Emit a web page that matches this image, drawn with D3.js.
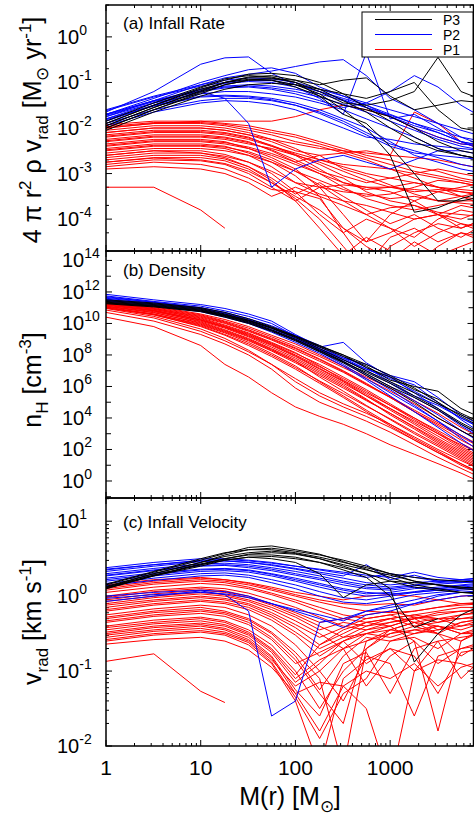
<!DOCTYPE html>
<html>
<head>
<meta charset="utf-8">
<script src="https://cdn.jsdelivr.net/npm/d3@7"></script>
<style>
  body { margin: 0; background: #fff; }
  text { font-family: "Liberation Sans", Arial, Helvetica, sans-serif; fill: #000; }
</style>
</head>
<body>
<div id="container"></div>
<script>

// enclosed mass M(r) [Msun], shared by every profile below
const massGrid = [1, 3.2, 10, 18, 32, 56, 100, 180, 320, 560, 1000, 1800, 3200, 5600, 10000];

// (a) infall rate, log10 [Msun/yr]
const rateP3 = [
  [-1.95,-1.55,-1.2,-1.0,-0.88,-0.85,-0.95,-1.15,-1.4,-1.65,-2.0,-2.3,-2.5,-2.6,-2.7],
  [-1.9,-1.5,-1.12,-0.95,-0.82,-0.8,-0.85,-1.0,-1.25,-1.55,-1.85,-2.2,-2.45,-2.6,-2.7],
  [-2.0,-1.6,-1.25,-1.05,-0.95,-0.92,-0.95,-1.05,-0.95,-0.9,-1.3,-1.6,-1.5,-1.4,-1.45],
  [-1.85,-1.45,-1.1,-0.92,-0.85,-0.88,-1.0,-1.2,-1.45,-1.5,-1.4,-1.2,-0.45,-1.2,-1.4],
  [-2.0,-1.6,-1.22,-1.05,-0.95,-0.95,-1.05,-1.25,-1.6,-2.0,-2.6,-3.85,-3.75,-3.55,-3.4],
  [-1.95,-1.55,-1.18,-1.0,-0.9,-0.9,-1.0,-1.3,-1.7,-1.9,-2.4,-3.0,-3.6,-3.6,-3.5],
  [-1.9,-1.5,-1.15,-1.0,-0.93,-0.95,-1.1,-1.3,-1.5,-1.6,-1.75,-2.0,-2.3,-2.5,-2.6],
  [-2.05,-1.65,-1.3,-1.15,-1.05,-1.02,-1.05,-1.15,-1.25,-1.35,-1.2,-1.0,-1.6,-2.0,-2.1]
];
const rateP2 = [
  [-1.65,-1.2,-0.6,-0.46,-0.44,-0.8,-1.05,-1.2,-1.35,-1.5,-1.7,-1.9,-2.1,-2.3,-2.4],
  [-1.7,-1.35,-1.0,-0.85,-0.72,-0.68,-0.8,-1.1,-1.3,-1.5,-1.75,-2.0,-2.2,-2.35,-2.4],
  [-1.75,-1.4,-1.05,-0.9,-0.82,-0.75,-0.65,-0.55,-0.5,-0.85,-1.35,-1.6,-1.9,-2.2,-2.4],
  [-1.8,-1.45,-1.15,-1.02,-0.98,-1.0,-1.1,-1.35,-1.7,-0.35,-1.8,-1.7,-2.0,-2.3,-2.5],
  [-1.85,-1.5,-1.2,-1.35,-1.9,-3.3,-2.9,-2.7,-2.6,-2.75,-2.9,-2.7,-2.5,-2.5,-2.6],
  [-1.6,-1.3,-1.05,-0.95,-0.9,-0.92,-1.0,-1.15,-1.3,-1.45,-1.6,-1.75,-1.9,-2.05,-2.2],
  [-1.7,-1.4,-1.15,-1.08,-1.05,-1.08,-1.15,-1.25,-1.4,-1.55,-1.75,-1.95,-2.1,-2.3,-2.4],
  [-1.75,-1.45,-1.25,-1.2,-1.2,-1.25,-1.32,-1.45,-1.6,-1.8,-2.0,-2.2,-2.45,-2.6,-2.7],
  [-1.8,-1.5,-1.3,-1.28,-1.3,-1.35,-1.45,-1.6,-1.8,-2.0,-2.3,-2.6,-2.75,-2.9,-3.0],
  [-1.9,-1.6,-1.4,-1.35,-1.35,-1.4,-1.5,-1.65,-1.85,-2.1,-2.35,-2.5,-2.65,-2.8,-2.9],
  [-1.95,-1.65,-1.45,-1.4,-1.42,-1.48,-1.6,-1.8,-2.0,-2.2,-2.25,-2.35,-2.4,-2.45,-2.5],
  [-1.7,-1.4,-1.2,-1.12,-1.1,-1.15,-1.25,-1.4,-1.55,-1.45,-1.2,-0.85,-1.1,-1.5,-1.8],
  [-1.72,-1.42,-1.18,-1.1,-1.08,-1.12,-1.2,-1.32,-1.48,-1.65,-1.85,-2.05,-2.25,-2.4,-2.5],
  [-1.82,-1.52,-1.32,-1.3,-1.32,-1.38,-1.5,-1.68,-1.9,-2.15,-2.4,-2.55,-2.6,-2.65,-2.7],
  [-1.62,-1.32,-1.08,-1.0,-0.95,-0.96,-1.05,-1.2,-1.38,-1.55,-1.72,-1.9,-2.05,-2.2,-2.3]
];
const rateP1 = [
  [-1.93,-1.85,-1.85,-1.9,-1.95,-2.05,-2.15,-2.3,-2.45,-2.6,-2.7,-2.85,-2.95,-3.1,-3.2],
  [-2.0,-1.9,-1.9,-1.95,-2.05,-2.15,-2.3,-2.4,-2.55,-2.5,-2.6,-1.65,-1.9,-2.3,-2.5],
  [-2.05,-1.95,-1.95,-2.0,-2.1,-2.25,-2.45,-2.7,-2.85,-3.0,-3.1,-3.2,-3.3,-3.35,-3.4],
  [-2.1,-2.0,-2.0,-2.05,-2.15,-2.3,-2.5,-2.6,-2.55,-2.7,-2.9,-3.0,-3.1,-3.2,-3.3],
  [-2.15,-2.05,-2.05,-2.1,-2.2,-2.4,-2.6,-2.9,-3.2,-3.3,-3.3,-3.35,-3.4,-3.5,-3.6],
  [-2.2,-2.1,-2.1,-2.15,-2.25,-2.4,-2.55,-2.7,-2.8,-2.85,-2.9,-3.1,-3.3,-3.4,-3.45],
  [-2.25,-2.15,-2.15,-2.2,-2.3,-2.5,-2.75,-3.0,-3.3,-3.55,-3.7,-3.8,-3.7,-3.6,-3.6],
  [-2.3,-2.2,-2.2,-2.25,-2.35,-2.45,-2.6,-2.75,-2.95,-3.15,-3.3,-3.4,-3.35,-3.4,-3.5],
  [-2.35,-2.25,-2.25,-2.3,-2.45,-2.65,-2.9,-3.3,-3.9,-4.5,-4.3,-4.0,-3.9,-4.0,-3.8],
  [-2.4,-2.3,-2.3,-2.35,-2.45,-2.6,-2.8,-3.0,-3.2,-3.35,-3.3,-3.2,-3.3,-3.5,-3.7],
  [-2.45,-2.35,-2.35,-2.4,-2.55,-2.75,-3.05,-3.5,-4.3,-5.0,-4.4,-4.2,-4.5,-4.3,-4.4],
  [-2.5,-2.4,-2.4,-2.45,-2.6,-2.85,-3.2,-3.3,-3.25,-3.3,-3.4,-3.6,-3.9,-4.2,-4.0],
  [-2.55,-2.45,-2.45,-2.5,-2.6,-2.75,-2.95,-3.15,-3.35,-3.5,-3.45,-3.3,-3.15,-3.2,-3.3],
  [-2.6,-2.5,-2.5,-2.58,-2.75,-3.0,-3.4,-3.9,-4.3,-4.0,-4.2,-4.6,-4.3,-4.1,-4.3],
  [-2.65,-2.55,-2.55,-2.62,-2.75,-2.95,-3.2,-3.45,-3.6,-3.7,-3.85,-4.0,-3.9,-3.7,-3.8],
  [-2.7,-2.6,-2.6,-2.68,-2.85,-3.1,-3.45,-3.2,-3.5,-3.8,-4.1,-3.9,-4.2,-4.4,-4.1],
  [-2.75,-2.65,-2.65,-2.72,-2.9,-3.2,-3.5,-3.8,-4.2,-4.6,-4.9,-4.5,-4.8,-4.6,-4.4],
  [-2.8,-2.7,-2.72,-2.8,-3.0,-3.3,-3.6,-3.3,-3.4,-3.45,-3.55,-3.5,-3.6,-3.65,-3.7],
  [-2.85,-2.75,-2.8,-2.9,-3.1,-3.35,-3.4,-3.55,-4.2,-4.5,-3.9,-3.6,-3.4,-3.3,-3.2],
  [-2.9,-2.85,-2.9,-3.0,-3.2,-3.5,-3.3,-3.5,-3.7,-3.9,-3.75,-3.7,-3.85,-3.9,-3.95],
  [-3.3,-3.3,-3.8,-4.2,null,null,null,null,null,null,null,null,null,null,null],
  [-2.0,-1.9,-1.85,-1.85,-1.85,-1.85,-1.75,-1.6,-1.5,-1.6,-1.75,-2.0,-2.2,-2.35,-2.4],
  [-2.1,-2.0,-2.0,-2.05,-2.15,-2.25,-2.35,-2.45,-2.5,-2.55,-2.6,-2.65,-2.7,-2.8,-2.9],
  [-2.6,-2.5,-2.55,-2.65,-2.85,-3.15,-3.6,-4.2,-4.8,-4.4,-4.7,-5.0,-4.6,-4.3,-4.5],
  [-1.97,-1.88,-1.88,-1.92,-2.0,-2.1,-2.2,-2.35,-2.5,-2.65,-2.8,-2.95,-3.05,-3.15,-3.25],
  [-2.18,-2.08,-2.08,-2.12,-2.22,-2.38,-2.58,-2.8,-3.05,-3.2,-3.1,-3.0,-2.9,-3.0,-3.1],
  [-2.28,-2.18,-2.18,-2.22,-2.32,-2.48,-2.7,-2.95,-3.1,-3.4,-3.6,-3.7,-3.9,-4.1,-4.2],
  [-2.38,-2.28,-2.28,-2.32,-2.42,-2.56,-2.75,-2.6,-2.9,-3.05,-3.25,-3.45,-3.6,-3.5,-3.4],
  [-2.48,-2.38,-2.38,-2.42,-2.52,-2.7,-2.95,-3.25,-3.6,-3.9,-4.2,-4.4,-4.0,-3.8,-3.9],
  [-2.75,-2.66,-2.7,-2.78,-2.95,-3.2,-3.55,-4.0,-4.6,-5.2,-4.6,-4.3,-4.1,-4.2,-4.0]
];

// (b) density, log10 n_H [cm^-3]
const densP3 = [
  [11.45,11.25,10.95,10.6,10.2,9.7,9.1,8.4,7.7,7.0,6.3,5.6,4.9,4.2,3.5],
  [11.35,11.15,10.85,10.5,10.1,9.6,9.0,8.3,7.6,6.8,6.0,5.3,4.5,3.6,2.8],
  [11.3,11.1,10.8,10.5,10.15,9.7,9.15,8.5,7.9,7.3,6.4,6.0,5.7,4.6,3.9],
  [11.4,11.2,10.9,10.55,10.2,9.75,9.2,8.55,8.0,7.2,6.6,5.8,5.2,4.3,3.6],
  [11.25,11.05,10.75,10.4,10.0,9.5,8.9,8.2,7.5,6.7,5.9,5.0,4.0,3.2,2.4],
  [11.5,11.3,11.0,10.7,10.3,9.8,9.2,8.6,8.0,7.4,6.7,5.9,5.0,4.1,3.3],
  [11.3,11.1,10.8,10.45,10.05,9.55,8.95,8.25,7.55,6.9,6.2,5.4,4.6,3.7,2.9]
];
const densP2 = [
  [11.85,11.5,11.2,10.95,10.6,10.15,9.3,8.5,7.8,7.1,6.5,5.7,4.9,4.0,3.2],
  [11.75,11.4,11.1,10.8,10.45,10.0,9.2,8.4,7.8,7.4,6.7,6.3,5.3,4.2,3.4],
  [11.7,11.35,11.0,10.65,10.25,9.75,9.15,8.5,8.8,7.5,6.6,5.6,4.6,3.6,2.7],
  [11.6,11.3,10.95,10.6,10.2,9.7,9.1,8.35,7.6,6.8,6.0,5.1,4.2,3.2,2.3],
  [11.55,11.25,10.9,10.55,10.15,9.6,9.0,8.3,7.55,6.7,5.8,4.8,3.8,2.7,1.7],
  [11.5,11.2,10.85,10.5,10.1,9.6,9.0,8.35,7.7,7.1,6.6,6.1,5.0,3.9,2.9],
  [11.45,11.15,10.8,10.45,10.05,9.55,8.9,8.2,7.4,6.5,5.6,4.7,3.8,2.9,2.0],
  [11.4,11.1,10.75,10.4,10.0,9.45,8.8,8.1,7.3,6.4,5.4,4.4,3.4,2.4,1.5],
  [11.65,11.35,11.0,10.7,10.3,9.85,9.25,8.6,7.9,7.2,6.3,5.4,4.8,4.0,3.3],
  [11.5,11.2,10.9,10.55,10.2,9.7,9.05,8.4,7.7,7.0,6.2,5.3,4.5,3.5,2.6]
];
const densP1 = [
  [11.35,11.05,10.55,10.15,9.7,9.15,8.55,7.9,7.2,6.5,5.7,4.9,4.0,3.2,2.4],
  [11.3,10.95,10.4,10.0,9.5,8.95,8.3,7.6,6.9,6.1,5.3,4.4,3.5,2.6,1.8],
  [11.25,10.9,10.3,9.85,9.35,8.75,8.1,7.4,6.6,5.8,4.9,4.0,3.1,2.2,1.4],
  [11.2,10.85,10.2,9.75,9.2,8.6,7.9,7.1,6.3,5.4,4.5,3.6,2.7,1.9,1.1],
  [11.15,10.8,10.1,9.6,9.05,8.4,7.7,6.9,6.1,5.2,4.2,3.3,2.4,1.6,0.8],
  [11.1,10.7,10.0,9.5,8.95,8.3,7.6,6.6,5.7,4.8,3.9,3.0,2.2,1.4,0.6],
  [11.05,10.6,9.9,9.4,8.8,8.1,7.3,6.3,5.4,4.5,3.6,2.7,1.9,1.1,0.3],
  [11.0,10.55,9.8,9.25,8.6,7.9,7.1,6.2,5.3,4.4,3.5,2.6,1.8,1.0,0.3],
  [10.95,10.45,9.65,9.05,8.3,7.4,6.3,5.4,4.7,4.1,3.4,2.6,1.8,1.1,0.4],
  [10.7,10.15,9.3,8.7,8.0,7.1,5.9,5.0,4.4,3.8,3.1,2.3,1.5,0.8,0.1],
  [10.4,9.8,8.6,7.4,6.6,5.6,4.7,4.1,3.6,3.0,2.3,1.7,1.1,0.5,-0.2],
  [11.3,11.0,10.5,10.1,9.6,9.05,8.45,7.75,7.0,6.2,5.3,4.4,3.6,2.8,2.0],
  [11.25,10.9,10.35,9.9,9.4,8.8,8.15,7.3,6.4,5.6,4.8,4.0,3.2,2.4,1.6],
  [11.2,10.8,10.25,9.8,9.3,8.7,8.0,7.25,6.5,5.7,4.8,3.9,3.0,2.1,1.3],
  [11.1,10.75,10.15,9.7,9.15,8.5,7.8,7.0,6.2,5.4,4.6,3.8,3.0,2.3,1.6],
  [11.0,10.6,9.95,9.45,8.9,8.25,7.5,6.7,5.9,5.1,4.3,3.4,2.5,1.7,0.9],
  [10.85,10.35,9.5,8.9,8.2,7.4,6.5,5.6,4.9,4.3,3.6,2.8,2.0,1.3,0.6],
  [11.35,11.1,10.6,10.25,9.8,9.25,8.7,8.0,7.3,6.6,5.9,5.1,4.3,3.4,2.6],
  [11.28,10.95,10.45,10.05,9.55,9.0,8.4,7.7,6.95,6.15,5.35,4.5,3.7,2.9,2.1],
  [11.18,10.82,10.22,9.78,9.25,8.65,7.95,7.15,6.35,5.5,4.6,3.7,2.85,2.0,1.2],
  [11.08,10.68,10.05,9.55,9.0,8.35,7.6,6.8,6.0,5.15,4.3,3.45,2.6,1.8,1.0],
  [10.98,10.55,9.85,9.3,8.7,8.0,7.2,6.35,5.55,4.75,3.95,3.1,2.3,1.5,0.7]
];

// (c) infall velocity, log10 v_rad [km/s]
const velP3 = [
  [0.12,0.3,0.45,0.55,0.62,0.64,0.6,0.55,0.48,0.4,0.3,0.2,0.15,0.12,0.1],
  [0.1,0.28,0.42,0.5,0.56,0.58,0.56,0.5,0.42,0.35,0.28,0.2,0.15,0.1,0.08],
  [0.15,0.32,0.48,0.57,0.65,0.67,0.62,0.56,0.46,0.36,0.25,0.15,0.1,0.05,0.05],
  [0.1,0.27,0.4,0.48,0.52,0.5,0.45,0.3,-0.02,0.15,0.2,0.18,0.15,0.12,0.1],
  [0.13,0.3,0.45,0.53,0.58,0.6,0.57,0.5,0.4,0.3,0.1,-0.88,-0.5,-0.25,-0.1],
  [0.12,0.28,0.43,0.5,0.55,0.55,0.52,0.45,0.35,0.25,0.0,-0.42,-0.3,null,null],
  [0.16,0.33,0.5,0.58,0.62,0.62,0.58,0.52,0.45,0.38,0.3,0.25,0.22,0.2,0.18],
  [0.11,0.27,0.42,0.48,0.52,0.53,0.5,0.45,0.38,0.3,0.2,0.12,0.08,0.05,0.02]
];
const velP2 = [
  [0.38,0.45,0.5,0.5,0.48,0.45,0.4,0.35,0.3,0.25,0.3,0.25,0.2,0.22,0.25],
  [0.33,0.4,0.46,0.47,0.45,0.42,0.37,0.32,0.27,0.42,0.22,0.28,0.2,0.18,0.2],
  [0.3,0.37,0.43,0.44,0.42,0.38,0.33,0.27,0.2,0.15,0.12,0.15,0.18,0.2,0.22],
  [0.27,0.34,0.4,0.41,0.38,0.34,0.28,0.22,0.15,0.1,0.08,0.12,0.1,0.12,0.15],
  [0.24,0.31,0.36,0.37,0.35,0.3,0.24,0.17,0.1,0.05,0.03,0.05,0.08,0.1,0.12],
  [0.2,0.27,0.33,0.34,0.32,0.27,0.2,0.12,0.05,0.0,0.02,0.06,0.1,0.14,0.16],
  [0.17,0.24,0.3,0.31,0.28,0.22,0.15,0.06,-0.02,-0.05,0.0,0.05,0.08,0.1,0.12],
  [0.14,0.21,0.27,0.28,0.25,0.18,0.1,0.0,-0.08,-0.1,-0.05,0.02,0.05,0.08,0.1],
  [0.0,0.05,0.08,0.06,0.0,-0.1,-0.2,-0.3,-0.42,-0.25,-0.2,-0.1,0.0,0.05,0.05],
  [-0.03,0.02,0.05,0.03,-0.02,-0.1,-0.18,-0.25,-0.33,-0.2,-0.12,-0.05,0.02,0.05,0.08],
  [-0.07,0.0,0.07,0.02,-0.2,-1.6,-1.4,-0.35,-0.3,-0.2,-0.15,-0.1,-0.05,0.0,0.02],
  [0.36,0.42,0.48,0.49,0.47,0.44,0.4,0.36,0.32,0.28,0.25,0.32,0.25,0.22,0.2],
  [0.35,0.42,0.47,0.47,0.45,0.41,0.36,0.3,0.24,0.18,0.15,0.18,0.2,0.22,0.24],
  [0.22,0.29,0.35,0.36,0.34,0.29,0.22,0.15,0.08,0.03,0.05,0.1,0.12,0.15,0.18],
  [0.28,0.35,0.41,0.42,0.4,0.36,0.3,0.24,0.18,0.12,0.1,0.14,0.16,0.18,0.2]
];
const velP1 = [
  [0.15,0.22,0.25,0.22,0.18,0.12,0.05,0.0,-0.05,0.0,0.02,0.0,-0.05,-0.1,-0.1],
  [0.1,0.18,0.22,0.2,0.15,0.08,0.0,-0.08,-0.15,-0.2,-0.22,-0.2,-0.15,-0.1,-0.08],
  [0.05,0.12,0.17,0.15,0.1,0.02,-0.08,-0.2,-0.3,-0.35,-0.3,-0.25,-0.2,-0.15,-0.15],
  [0.0,0.08,0.12,0.1,0.04,-0.05,-0.15,-0.28,-0.4,-0.45,-0.35,-0.3,-0.22,-0.2,-0.18],
  [-0.05,0.03,0.08,0.05,-0.02,-0.12,-0.25,-0.4,-0.55,-0.5,-0.4,-0.3,-0.25,-0.2,-0.2],
  [-0.1,-0.02,0.03,0.0,-0.07,-0.18,-0.33,-0.5,-0.7,-0.6,-0.45,-0.35,-0.3,-0.3,-0.25],
  [-0.15,-0.07,-0.02,-0.05,-0.12,-0.25,-0.42,-0.65,-0.5,-0.35,-0.3,-0.4,-0.35,-0.3,-0.28],
  [-0.2,-0.12,-0.07,-0.1,-0.18,-0.32,-0.52,-0.8,-0.6,-0.45,-0.4,-0.3,-0.45,-0.35,-0.3],
  [-0.25,-0.17,-0.12,-0.15,-0.25,-0.4,-0.65,-1.0,-0.7,-0.5,-0.45,-0.5,-0.4,-0.5,-0.4],
  [-0.3,-0.22,-0.18,-0.22,-0.32,-0.5,-0.8,-1.25,-0.8,-0.55,-0.6,-0.55,-0.7,-0.5,-0.45],
  [-0.35,-0.27,-0.23,-0.27,-0.38,-0.58,-0.9,-0.75,-0.6,-0.9,-0.7,-1.0,-0.6,-0.55,-0.5],
  [-0.4,-0.32,-0.28,-0.33,-0.45,-0.65,-1.0,-1.5,-1.0,-0.7,-0.5,-0.45,-0.5,-0.8,-0.6],
  [-0.45,-0.37,-0.33,-0.38,-0.5,-0.72,-1.1,-0.85,-0.7,-1.2,-0.8,-0.6,-0.9,-0.7,-0.65],
  [-0.5,-0.42,-0.38,-0.43,-0.55,-0.8,-1.25,-1.6,-0.9,-0.75,-1.3,-0.7,-0.6,-1.1,-0.8],
  [-0.55,-0.47,-0.43,-0.48,-0.6,-0.85,-1.2,-1.0,-1.4,-0.8,-0.9,-1.6,-0.8,-0.7,-0.6],
  [-0.6,-0.52,-0.48,-0.52,-0.65,-0.9,-1.4,-2.3,-1.1,-0.85,-0.7,-0.8,-1.3,-0.75,-0.7],
  [-0.64,-0.58,-0.55,-0.6,-0.72,-0.95,-1.3,-1.15,-1.2,-1.5,-2.5,-1.0,-0.85,-0.9,-1.0],
  [-0.87,-0.77,-1.27,-1.42,null,null,null,null,null,null,null,null,null,null,null],
  [0.12,0.2,0.24,0.22,0.17,0.1,0.02,-0.05,-0.1,-0.12,-0.1,-0.12,-0.05,0.0,0.02],
  [-0.02,0.06,0.1,0.07,0.0,-0.1,-0.22,-0.35,-0.3,-0.25,-0.2,-0.28,-0.3,-0.25,-0.2],
  [-0.28,-0.2,-0.15,-0.2,-0.3,-0.48,-0.75,-1.1,-2.3,-0.7,-0.45,-0.35,-0.4,-0.45,-0.35],
  [-0.42,-0.35,-0.3,-0.35,-0.48,-0.7,-1.05,-0.65,-0.45,-0.35,-0.4,-0.6,-1.8,-0.6,-0.4],
  [-0.12,-0.05,0.0,-0.03,-0.1,-0.22,-0.38,-0.55,-0.42,-0.3,-0.25,-0.35,-0.5,-0.35,-0.3],
  [-0.52,-0.45,-0.4,-0.45,-0.58,-0.82,-1.3,-1.8,-1.2,-1.0,-1.1,-0.9,-1.2,-0.95,-0.85],
  [0.08,0.16,0.2,0.18,0.12,0.04,-0.05,-0.15,-0.25,-0.3,-0.25,-0.2,-0.15,-0.12,-0.1],
  [-0.07,0.0,0.05,0.02,-0.05,-0.15,-0.28,-0.45,-0.35,-0.4,-0.35,-0.28,-0.35,-0.25,-0.22],
  [-0.18,-0.1,-0.05,-0.08,-0.15,-0.28,-0.48,-0.7,-0.55,-0.4,-0.3,-0.25,-0.3,-0.4,-0.3],
  [-0.33,-0.25,-0.2,-0.24,-0.35,-0.55,-0.85,-1.3,-1.7,-0.6,-0.5,-0.4,-0.5,-0.6,-0.45],
  [-0.48,-0.4,-0.36,-0.4,-0.52,-0.75,-1.15,-0.9,-0.6,-0.5,-0.55,-0.45,-0.4,-0.5,-0.5],
  [-0.58,-0.5,-0.46,-0.5,-0.62,-0.88,-1.35,-1.9,-1.3,-1.1,-0.6,-0.5,-0.45,-0.4,-0.35]
];

const seriesNames = ["P3", "P2", "P1"];
const seriesColors = {P3: "#000000", P2: "#0000ff", P1: "#ff0000"};
const xTickLabels = ["1", "10", "100", "1000"];

let W = 474, H = 816;
let plotLeft = 106, plotRight = 473.5;

let svg = d3.select("#container").append("svg")
        .attr("width", W)
        .attr("height", H);

let xScale = d3.scaleLog()
        .domain([1, Math.pow(10, 3.88)])
        .range([plotLeft, plotRight]);

let panels = [
  {id: "a", top: 5, bottom: 251, lo: -4.7, hi: 0.7, title: "(a) Infall Rate", titleY: 29,
    sets: {P1: rateP1, P2: rateP2, P3: rateP3},
    labelExp: [-4, -3, -2, -1, 0], plainExp: [], minorMult: [2, 5], labelX: 57},
  {id: "b", top: 251, bottom: 498, lo: -1.08, hi: 14.6, title: "(b) Density", titleY: 276,
    sets: {P1: densP1, P2: densP2, P3: densP3},
    labelExp: [0, 2, 4, 6, 8, 10, 12, 14], plainExp: [-1, 1, 3, 5, 7, 9, 11, 13], minorMult: [], labelX: 62},
  {id: "c", top: 498, bottom: 746, lo: -2, hi: 1.31, title: "(c) Infall Velocity", titleY: 528,
    sets: {P1: velP1, P2: velP2, P3: velP3},
    labelExp: [-2, -1, 0, 1], plainExp: [], minorMult: [2, 3, 4, 5, 6, 7, 8, 9], labelX: 57}
];

let xMinor = [];
for (let e = 0; e < 4; e = e + 1) {
  for (let m = 2; m <= 9; m = m + 1) {
    let v = m * Math.pow(10, e);
    if (xScale(v) < plotRight) xMinor.push(v);
  }
}
let xMajor = [1, 10, 100, 1000];

panels.forEach(function (p) {

  let yScale = d3.scaleLog()
          .domain([Math.pow(10, p.lo), Math.pow(10, p.hi)])
          .range([p.bottom, p.top]);

  let g = svg.append("g");

  // ticks, inward on all four sides
  let ticks = g.append("g").attr("stroke", "#000").attr("stroke-width", 1);

  function hTick(v, len) {
    let yy = yScale(v);
    if (yy < p.top || yy > p.bottom) return;
    ticks.append("line").attr("x1", plotLeft).attr("x2", plotLeft + len).attr("y1", yy).attr("y2", yy);
    ticks.append("line").attr("x1", plotRight).attr("x2", plotRight - len).attr("y1", yy).attr("y2", yy);
  }

  function vTick(v, len) {
    let xx = xScale(v);
    ticks.append("line").attr("x1", xx).attr("x2", xx).attr("y1", p.bottom).attr("y2", p.bottom - len);
    ticks.append("line").attr("x1", xx).attr("x2", xx).attr("y1", p.top).attr("y2", p.top + len);
  }

  p.labelExp.forEach(function (e) { hTick(Math.pow(10, e), 6); });
  p.plainExp.forEach(function (e) { hTick(Math.pow(10, e), 5); });
  for (let e = Math.floor(p.lo); e < Math.ceil(p.hi); e = e + 1) {
    p.minorMult.forEach(function (m) { hTick(m * Math.pow(10, e), 3); });
  }
  xMajor.forEach(function (v) { vTick(v, 6); });
  xMinor.forEach(function (v) { vTick(v, 3); });

  // profiles
  svg.append("clipPath").attr("id", "clip-" + p.id)
          .append("rect")
          .attr("x", plotLeft).attr("y", p.top)
          .attr("width", plotRight - plotLeft).attr("height", p.bottom - p.top);

  let lines = g.append("g").attr("clip-path", "url(#clip-" + p.id + ")");

  let lineGen = d3.line()
          .defined(function (d) { return d[1] !== null; })
          .x(function (d) { return xScale(d[0]); })
          .y(function (d) { return yScale(Math.pow(10, d[1])); });

  ["P1", "P2", "P3"].forEach(function (s) {
    p.sets[s].forEach(function (row) {
      lines.append("path")
              .datum(row.map(function (v, i) { return [massGrid[i], v]; }))
              .attr("fill", "none")
              .attr("stroke", seriesColors[s])
              .attr("stroke-width", 1)
              .attr("stroke-linejoin", "round")
              .attr("d", lineGen);
    });
  });

  // frame
  g.append("rect")
          .attr("x", plotLeft).attr("y", p.top)
          .attr("width", plotRight - plotLeft).attr("height", p.bottom - p.top)
          .attr("fill", "none").attr("stroke", "#000").attr("stroke-width", 1.5);

  // y tick labels
  p.labelExp.forEach(function (e) {
    let t = g.append("text")
            .attr("x", p.labelX)
            .attr("y", yScale(Math.pow(10, e)) + 7)
            .style("font-size", "20px");
    t.append("tspan").text("10");
    t.append("tspan").attr("dy", -9).style("font-size", "14px").text(String(e));
  });

  g.append("text")
          .attr("x", 123)
          .attr("y", p.titleY)
          .style("font-size", "17px")
          .text(p.title);

});

// x tick labels under the last panel
xMajor.forEach(function (v, i) {
  svg.append("text")
          .attr("x", xScale(v))
          .attr("y", 775)
          .attr("text-anchor", "middle")
          .style("font-size", "21px")
          .text(xTickLabels[i]);
});

// axis titles built from pieces: [text, "sub" | "sup" | undefined]
function richText(t, parts) {
  let offset = 0;
  parts.forEach(function (pt) {
    let want = pt[1] === "sub" ? 7 : (pt[1] === "sup" ? -10 : 0);
    let span = t.append("tspan").text(pt[0]);
    if (want !== offset) span.attr("dy", want - offset);
    if (want !== 0) span.style("font-size", "17px");
    offset = want;
  });
}

let xt = svg.append("text")
        .attr("x", 290)
        .attr("y", 805)
        .attr("text-anchor", "middle")
        .style("font-size", "25px");
richText(xt, [["M(r) [M"], ["\u2299", "sub"], ["]"]]);

function yTitle(cy, parts) {
  let t = svg.append("text")
          .attr("transform", "translate(41," + cy + ") rotate(-90)")
          .attr("text-anchor", "middle")
          .style("font-size", "25px");
  richText(t, parts);
}

yTitle(130, [["4 \u03c0 r"], ["2", "sup"], [" \u03c1 v"], ["rad", "sub"], [" [M"], ["\u2299", "sub"], [" yr"], ["-1", "sup"], ["]"]]);
yTitle(380, [["n"], ["H", "sub"], [" [cm"], ["-3", "sup"], ["]"]]);
yTitle(622, [["v"], ["rad", "sub"], [" [km s"], ["-1", "sup"], ["]"]]);

// legend
let legend = svg.append("g");
legend.append("rect")
        .attr("x", 362).attr("y", 12)
        .attr("width", 111).attr("height", 45)
        .attr("fill", "#fff").attr("stroke", "#000").attr("stroke-width", 1);

seriesNames.forEach(function (s, i) {
  let ly = 19.5 + i * 15;
  legend.append("line")
          .attr("x1", 375).attr("x2", 432)
          .attr("y1", ly).attr("y2", ly)
          .attr("stroke", seriesColors[s]).attr("stroke-width", 1);
  legend.append("text")
          .attr("x", 443).attr("y", ly + 5)
          .style("font-size", "14px")
          .text(s);
});

</script>
</body>
</html>
